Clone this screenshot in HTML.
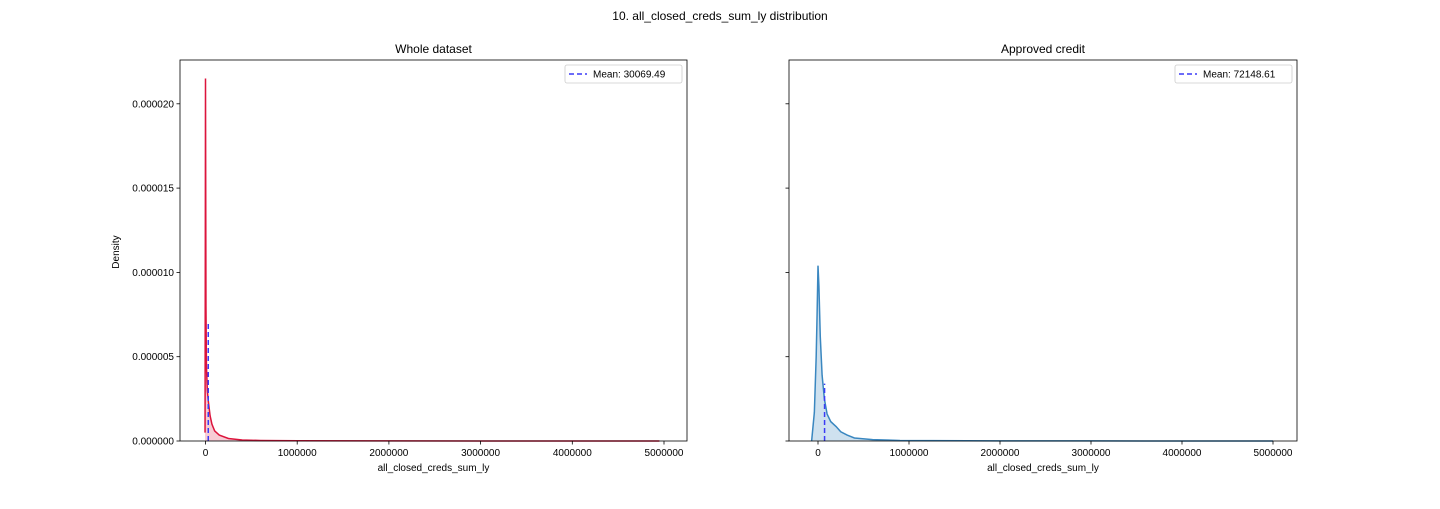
<!DOCTYPE html>
<html><head><meta charset="utf-8"><style>
body{margin:0;background:#fff;}
svg text{font-family:"Liberation Sans","DejaVu Sans",sans-serif;fill:#000;}
</style></head><body>
<svg width="1440" height="504" viewBox="0 0 1440 504" xmlns="http://www.w3.org/2000/svg">
<rect width="1440" height="504" fill="#fff"/>
<text x="720" y="20" font-size="12" text-anchor="middle">10. all_closed_creds_sum_ly distribution</text>
<g id="root"></g>
</svg>
<script>
// x values in thousands
const leftX = [-5, -2, 0, 2, 5, 10, 20, 30, 50, 70, 100, 150, 250, 400, 600, 1000, 2000, 3000, 4000, 4950];
const leftY = [0.5e-6, 1.2e-5, 2.15e-5, 1.6e-5, 8e-6, 4.5e-6, 3e-6, 2.4e-6, 1.5e-6, 1.0e-6, 0.6e-6, 0.35e-6, 0.15e-6, 0.06e-6, 0.03e-6, 0.015e-6, 0.005e-6, 0.002e-6, 0.001e-6, 0];
const rightX = [-70, -40, -20, -10, 0, 10, 25, 45, 70, 100, 140, 200, 250, 320, 400, 600, 900, 2000, 3000, 4000, 5000];
const rightY = [0, 1.7e-6, 5e-6, 7.5e-6, 1.04e-5, 9.2e-6, 6.2e-6, 3.9e-6, 2.5e-6, 1.6e-6, 1.15e-6, 0.85e-6, 0.55e-6, 0.35e-6, 0.18e-6, 0.08e-6, 0.03e-6, 0.01e-6, 0.005e-6, 0.002e-6, 0];
const means = [30069.49, 72148.61];
const meanHeights = [7.0e-6, 3.4e-6];
const xTicks = [0, 1000000, 2000000, 3000000, 4000000, 5000000];
const xTickLabels = ["0", "1000000", "2000000", "3000000", "4000000", "5000000"];
const yTicks = [0, 5e-6, 1e-5, 1.5e-5, 2e-5];
const yTickLabels = ["0.000000", "0.000005", "0.000010", "0.000015", "0.000020"];

const NS = "http://www.w3.org/2000/svg";
const root = document.getElementById("root");
function mk(tag, attrs, parent) {
  const e = document.createElementNS(NS, tag);
  for (const k in attrs) e.setAttribute(k, attrs[k]);
  (parent || root).appendChild(e);
  return e;
}
const Y0 = 441, Y1 = 60;
function yS(v) { return Y0 - v / 5e-6 * 84.3; }

const panels = [
  {x0: 180, x1: 687, zero: 205.5, per: 91.7, xs: leftX, ys: leftY, color: "#dc143c", fill: "rgba(220,20,60,0.22)", title: "Whole dataset", labels: true, key: "whole"},
  {x0: 789, x1: 1297, zero: 818, per: 91.0, xs: rightX, ys: rightY, color: "#3a87c0", fill: "rgba(58,135,192,0.25)", title: "Approved credit", labels: false, key: "approved"}
];
panels.forEach((p, i) => {
  const g = mk("g", {});
  
  
  const xS = v => p.zero + v / 1e6 * p.per;
  const t = mk("text", {x: (p.x0 + p.x1) / 2, y: 53, "font-size": 12, "text-anchor": "middle"}, g);
  t.textContent = p.title;
  
  
  let d = "";
  p.xs.forEach((x, j) => { d += (j ? "L" : "M") + xS(x * 1000).toFixed(2) + "," + yS(p.ys[j]).toFixed(2); });
  const area = mk("path", {d: d + "L" + xS(p.xs[p.xs.length - 1] * 1000) + "," + Y0 + "L" + xS(p.xs[0] * 1000) + "," + Y0 + "Z", fill: p.fill, stroke: "none"}, g);
  
  
  const line = mk("path", {d: d, fill: "none", stroke: p.color, "stroke-width": 1.5}, g);
  
  
  const mx = xS(means[i]);
  const ml = mk("line", {x1: mx, x2: mx, y1: Y0, y2: yS(meanHeights[i]), stroke: "#3b3bf5", "stroke-width": 1.5, "stroke-dasharray": "5,3"}, g);
  
  
  const fr = mk("rect", {x: p.x0, y: Y1, width: p.x1 - p.x0, height: Y0 - Y1, fill: "none", stroke: "#000", "stroke-width": 0.8}, g);
  
  
  xTicks.forEach((v, j) => {
    const x = xS(v);
    mk("line", {x1: x, x2: x, y1: Y0, y2: Y0 + 3.5, stroke: "#000", "stroke-width": 0.8}, g);
    const tl = mk("text", {x: x, y: Y0 + 15, "font-size": 10, "text-anchor": "middle"}, g);
    tl.textContent = xTickLabels[j];
    
    
  });
  yTicks.forEach((v, j) => {
    const y = yS(v);
    mk("line", {x1: p.x0 - 3.5, x2: p.x0, y1: y, y2: y, stroke: "#000", "stroke-width": 0.8}, g);
    if (p.labels) {
      const tl = mk("text", {x: p.x0 - 6, y: y + 3.5, "font-size": 10, "text-anchor": "end"}, g);
      tl.textContent = yTickLabels[j];
      
      
    }
  });
  const xl = mk("text", {x: (p.x0 + p.x1) / 2, y: 471, "font-size": 10, "text-anchor": "middle"}, g);
  xl.textContent = "all_closed_creds_sum_ly";
  
  
  const lg = mk("g", {}, g);
  
  
  const lx = p.x1 - 122;
  mk("rect", {x: lx, y: 65, width: 117, height: 18, rx: 2, fill: "#fff", stroke: "#ccc", "stroke-width": 0.8}, lg);
  mk("line", {x1: lx + 4, x2: lx + 22, y1: 74, y2: 74, stroke: "#3b3bf5", "stroke-width": 1.5, "stroke-dasharray": "5,3"}, lg);
  const lt = mk("text", {x: lx + 28, y: 77.5, "font-size": 10}, lg);
  lt.textContent = "Mean: " + means[i].toFixed(2);
});
const yl = mk("text", {x: 119, y: 252, "font-size": 10, "text-anchor": "middle", transform: "rotate(-90 119 252)"});
yl.textContent = "Density";


</script>
</body></html>
